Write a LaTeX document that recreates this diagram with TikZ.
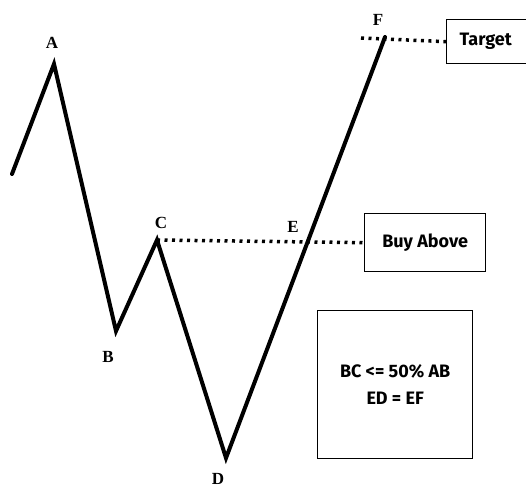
\documentclass[tikz,border=0pt]{standalone}
\usepackage{fontspec}
\setmainfont{Liberation Serif}
\newfontfamily\boxfont{Fira Sans}
\begin{document}
\begin{tikzpicture}[x=1pt,y=-1pt,
  wave/.style={line width=4pt,line join=miter,line cap=round},
  dotline/.style={line width=3.5pt,dash pattern=on 3pt off 4.5pt},
  ptlabel/.style={font=\fontsize{17}{17}\selectfont\bfseries,inner sep=0pt},
  infobox/.style={draw,line width=1.3pt,font=\boxfont\fontsize{18}{27}\selectfont\bfseries,inner sep=0pt,align=center}]
\useasboundingbox (0,0) rectangle (526,488);
\fill[white] (0,0) rectangle (526,488);
\coordinate (S) at (12,174);
\coordinate (A) at (54,64);
\coordinate (B) at (116,331);
\coordinate (C) at (157,240);
\coordinate (D) at (226,458);
\coordinate (F) at (385,37);
\coordinate (Fd) at (361,38);
\node[ptlabel] (lA) at (52,43) {A};
\node[ptlabel] (lB) at (108,357) {B};
\node[ptlabel] (lC) at (161,223) {C};
\node[ptlabel] (lD) at (218,479) {D};
\node[ptlabel] (lE) at (293,227) {E};
\node[ptlabel] (lF) at (378,20) {F};
\node[infobox,minimum width=84pt,minimum height=44pt,anchor=north west] (target) at (446,19) {\hspace*{-6pt}Target};
\node[infobox,minimum width=121pt,minimum height=58pt,anchor=north west] (buy) at (364,213) {Buy Above};
\node[infobox,minimum width=155pt,minimum height=148pt,anchor=north west] (rule) at (317,310) {BC <= 50\% AB\\ED = EF};
\draw[dotline] (C) -- (buy.west);
\draw[dotline] (Fd) -- (target.west);
\draw[wave] (S) -- (A) -- (B) -- (C) -- (D) -- (F);
\end{tikzpicture}
\end{document}
